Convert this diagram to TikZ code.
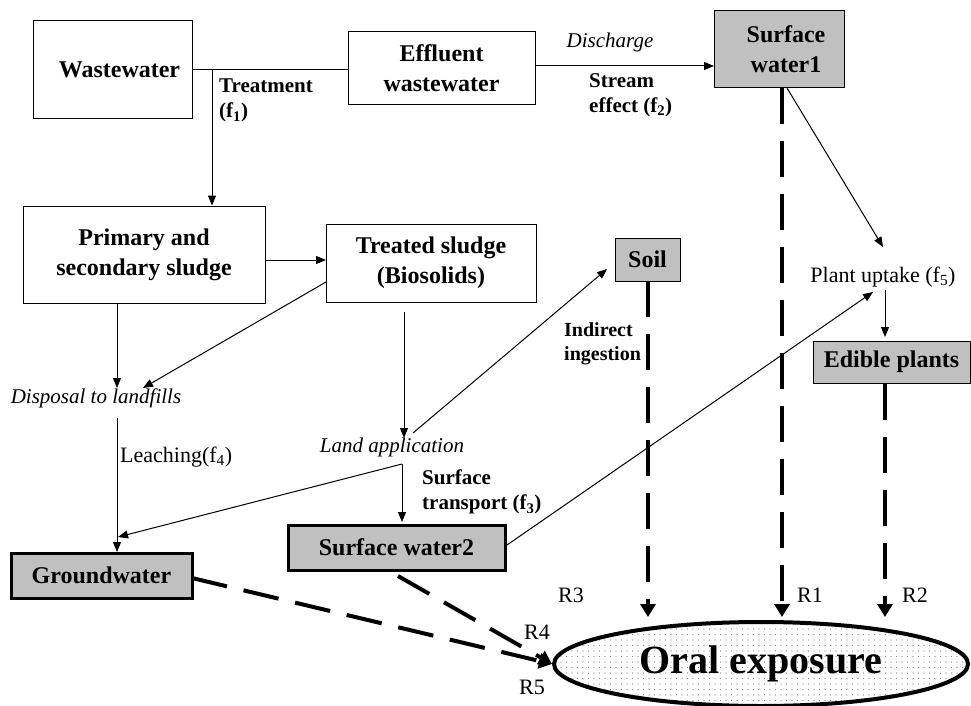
\documentclass[tikz,border=0pt]{standalone}
\usepackage{fontspec}
\setmainfont{Liberation Serif}
\usetikzlibrary{arrows.meta,shapes.geometric,patterns.meta,calc}
\newcommand\bxfont{\fontsize{24}{30}\selectfont\bfseries}
\newcommand\lbfont{\fontsize{21}{25}\selectfont\bfseries}
\newcommand\rgfont{\fontsize{22}{25}\selectfont}
\newcommand\itfont{\fontsize{21}{25}\selectfont\itshape}
\definecolor{boxgray}{RGB}{192,192,192}
\begin{document}
\begin{tikzpicture}[x=1pt,y=-1pt,
  box/.style={draw,line width=1pt,inner sep=0pt,align=center,font=\bxfont},
  gbox/.style={box,fill=boxgray},
  tbox/.style={gbox,line width=3pt},
  lbl/.style={inner sep=0pt,align=left,font=\lbfont},
  rlbl/.style={inner sep=0pt,align=left,font=\rgfont},
  ilbl/.style={inner sep=0pt,align=center,font=\itfont},
  arr/.style={line width=1pt,-{Triangle[length=10pt,width=8pt]}},
  ln/.style={line width=1pt},
  rd/.style={line width=4pt,dash pattern=on 36pt off 17pt,-{Triangle[length=13pt,width=15pt]}}]
\useasboundingbox (0,0) rectangle (971,706);
\fill[white] (0,0) rectangle (971,706);

% boxes
\node[box,minimum width=159pt,minimum height=98pt] (ww) at (112.5,70) {\hspace*{14pt}Wastewater};
\node[box,minimum width=187pt,minimum height=73pt] (eff) at (441.5,68.5) {Effluent\\wastewater};
\node[gbox,minimum width=130pt,minimum height=77pt] (sw1) at (779,49.5) {\hspace*{14pt}Surface\\\hspace*{14pt}water1};
\node[box,minimum width=242pt,minimum height=97pt] (prim) at (144,254.5) {Primary and\\secondary sludge};
\node[box,minimum width=210pt,minimum height=78pt] (tre) at (431,263) {Treated sludge\\(Biosolids)};
\node[gbox,minimum width=65pt,minimum height=43pt] (soil) at (647.5,259.5) {Soil};
\node[gbox,minimum width=157pt,minimum height=42pt] (edi) at (891.5,362) {Edible plants};
\node[tbox,minimum width=217pt,minimum height=45pt] (sw2) at (396.5,547.5) {Surface water2};
\node[tbox,minimum width=181pt,minimum height=45pt] (gw) at (101.5,575.5) {Groundwater};
\node[ellipse,draw,line width=4pt,minimum width=414pt,minimum height=84pt,inner sep=0pt,
  preaction={fill=white},pattern={Dots[distance=5.5pt,radius=0.6pt]},pattern color=black!50,
  font=\fontsize{40}{42}\selectfont\bfseries] (oral) at (761,664) {Oral exposure};

% text labels
\node[lbl,anchor=north west] (treat) at (219,79) {Treatment\\(f\textsubscript{1})};
\node[ilbl] (dis) at (610,42) {Discharge};
\node[lbl,anchor=north west] (stream) at (589,73) {Stream\\effect (f\textsubscript{2})};
\node[ilbl] (disp) at (96,398) {Disposal to landfills};
\node[ilbl] (land) at (392,447) {Land application};
\node[rlbl,anchor=west] (leach) at (120,457) {Leaching(f\textsubscript{4})};
\node[lbl,anchor=north west] (surft) at (422,470) {Surface\\transport (f\textsubscript{3})};
\node[lbl,anchor=north west,font=\fontsize{20}{24}\selectfont\bfseries] (indi) at (564,322) {Indirect\\ingestion};
\node[rlbl] (pu) at (883,277) {Plant uptake (f\textsubscript{5})};
\node[rlbl] (r3) at (571,595) {R3};
\node[rlbl] (r1) at (810,595) {R1};
\node[rlbl] (r2) at (915,595) {R2};
\node[rlbl] (r4) at (537,632) {R4};
\node[rlbl] (r5) at (532,687) {R5};

% helper coordinates
\coordinate (tb) at (212,70);
\coordinate (effE) at (535,66);
\coordinate (sw1W) at (714,66);
\coordinate (primE) at (265,260);
\coordinate (treW) at (326,260);
\coordinate (primS) at (117,303);
\coordinate (dispN) at (117,388);
\coordinate (treSW) at (326,282);
\coordinate (dispNE) at (143,388);
\coordinate (treS) at (404,312);
\coordinate (landN) at (404,438);
\coordinate (landNE) at (413,433);
\coordinate (soilT) at (607,269);
\coordinate (dispS) at (117,418);
\coordinate (gwN) at (117,552);
\coordinate (lac) at (402,464);
\coordinate (gwL) at (118,537);
\coordinate (sw2N) at (402,522);
\coordinate (sw1S) at (787,88);
\coordinate (puN) at (883,247);
\coordinate (puS) at (885,290);
\coordinate (ediN) at (885,337);
\coordinate (sw2E) at (507,545);
\coordinate (puSW) at (873,292);
\coordinate (sw1D) at (782,88);
\coordinate (r1T) at (782,617);
\coordinate (soilD) at (648,281);
\coordinate (r3T) at (648,617);
\coordinate (ediD) at (885,384);
\coordinate (r2T) at (885,617);
\coordinate (gwE) at (192,578);
\coordinate (sw2S) at (398,576);

% connectors
\draw[ln] (ww.east) -- (ww.east -| eff.west);
\draw[arr] (tb) -- (tb |- prim.north);
\draw[arr] (effE) -- (sw1W);
\draw[arr] (primE) -- (treW);
\draw[arr] (primS) -- (dispN);
\draw[arr] (treSW) -- (dispNE);
\draw[arr] (treS) -- (landN);
\draw[arr] (landNE) -- (soilT);
\draw[arr] (dispS) -- (gwN);
\draw[arr] (lac) -- (gwL);
\draw[arr] (lac) -- (sw2N);
\draw[arr] (sw1S) -- (puN);
\draw[arr] (puS) -- (ediN);
\draw[arr] (sw2E) -- (puSW);

% thick dashed routes
\draw[rd] (sw1D) -- (r1T);
\draw[rd] (soilD) -- (r3T);
\draw[rd] (ediD) -- (r2T);
\draw[rd] (gwE) -- (oral.west);
\draw[rd] (sw2S) -- (oral.west);
\end{tikzpicture}
\end{document}
